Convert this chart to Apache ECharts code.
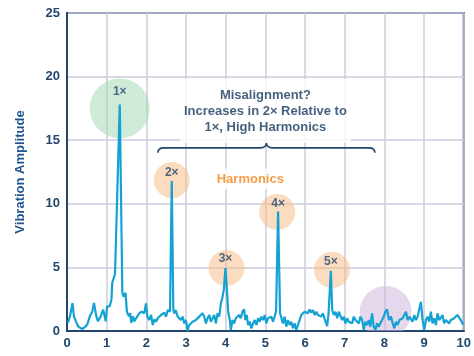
<!DOCTYPE html>
<html><head><meta charset="utf-8">
<script src="https://cdn.jsdelivr.net/npm/echarts@6/dist/echarts.min.js"></script>
<style>html,body{margin:0;padding:0;background:#fff}#c{width:474px;height:356px}</style>
</head><body><div id="c"></div>
<script>
// Spectrum (frequency order, amplitude)
const freq = [0.02,0.075,0.12,0.14,0.175,0.225,0.28,0.37,0.425,0.51,0.575,0.64,0.68,0.74,0.78,0.85,0.91,0.95,0.975,1.01,1.075,1.12,1.14,1.18,1.21,1.33,1.395,1.425,1.475,1.51,1.56,1.59,1.62,1.66,1.70,1.74,1.78,1.825,1.88,1.95,1.99,2.027,2.069,2.119,2.161,2.203,2.244,2.286,2.32,2.37,2.412,2.454,2.496,2.538,2.596,2.64,2.68,2.705,2.739,2.789,2.831,2.873,2.915,2.956,2.998,3.04,3.082,3.124,3.166,3.208,3.249,3.291,3.333,3.375,3.417,3.459,3.501,3.543,3.585,3.627,3.668,3.71,3.752,3.794,3.836,3.878,3.92,3.95,3.995,4.035,4.062,4.104,4.129,4.171,4.212,4.254,4.296,4.338,4.38,4.422,4.464,4.497,4.531,4.564,4.606,4.648,4.69,4.732,4.774,4.815,4.857,4.899,4.941,4.983,5.025,5.066,5.108,5.15,5.192,5.234,5.27,5.32,5.37,5.401,5.443,5.485,5.527,5.569,5.611,5.653,5.695,5.736,5.778,5.82,5.862,5.904,5.946,5.988,6.03,6.07,6.114,6.156,6.198,6.24,6.282,6.324,6.366,6.407,6.449,6.491,6.533,6.558,6.592,6.65,6.684,6.726,6.768,6.81,6.851,6.893,6.935,6.977,7.019,7.061,7.103,7.145,7.186,7.228,7.27,7.312,7.354,7.396,7.438,7.48,7.521,7.563,7.605,7.647,7.689,7.731,7.773,7.815,7.856,7.898,7.94,7.982,8.024,8.066,8.116,8.166,8.208,8.25,8.292,8.334,8.376,8.417,8.459,8.501,8.543,8.585,8.627,8.669,8.71,8.752,8.794,8.836,8.878,8.92,8.962,9.004,9.046,9.088,9.129,9.171,9.213,9.255,9.297,9.339,9.381,9.422,9.464,9.506,9.548,9.59,9.632,9.674,9.715,9.757,9.799,9.841,9.883,9.925,9.967,9.99];
const amp = [0.63,1.15,1.15,2.2,1.15,0.76,0.37,0.16,0.24,0.5,1.15,1.54,2.2,1.15,0.76,1.15,1.68,1.15,0.76,1.94,1.94,2.46,3.77,3.77,4.5,17.8,3.0,2.7,3.0,1.5,1.15,1.4,0.63,1.15,0.76,1.0,0.9,1.4,1.52,1.4,2.17,1.13,0.86,1.26,0.47,0.92,0.73,1.0,0.86,1.26,1.13,1.44,1.13,1.65,1.52,11.8,1.65,1.39,1.65,1.13,1.26,0.86,1.13,0.6,0.86,0.03,0.47,0.6,0.73,0.6,0.86,0.73,1.13,1.0,1.39,1.13,0.6,1.0,1.26,0.73,1.0,1.26,0.6,1.39,1.13,2.17,2.7,3.2,4.95,3.0,1.52,0.86,0.08,0.86,0.6,1.0,0.86,1.26,1.0,1.52,1.7,0.86,1.26,0.47,0.73,0.2,0.6,0.86,0.47,1.0,0.73,1.13,0.86,1.26,0.6,1.0,0.86,1.13,0.73,1.13,1.6,9.4,1.39,1.52,0.6,1.13,0.34,0.86,0.47,0.73,0.21,0.6,0.08,0.47,0.86,1.26,1.13,1.52,1.52,1.39,1.7,1.44,1.65,1.26,1.52,1.26,1.39,1.13,1.39,1.0,1.13,0.39,1.39,4.74,1.65,1.26,1.52,1.0,1.52,1.65,0.86,1.13,0.6,1.0,0.73,0.86,0.6,1.13,0.86,1.0,0.6,1.13,0.86,0.08,0.73,0.47,0.86,0.34,1.39,0.34,0.08,0.6,0.34,0.6,0.86,1.13,1.52,1.7,0.86,1.13,0.6,0.21,0.73,0.47,0.86,0.73,1.0,0.86,1.52,0.86,1.13,1.0,0.73,1.26,0.86,1.13,1.26,2.3,0.86,0.08,0.86,1.13,0.73,1.52,0.6,1.0,0.47,1.39,0.86,0.73,1.26,0.6,0.86,1.0,0.6,0.86,0.73,1.0,0.86,1.26,1.13,0.86,0.6,0.5];

// Harmonic peaks
const orderLabels = ['1×','2×','3×','4×','5×'];
const orderFreq = [1.33, 2.64, 3.995, 5.32, 6.65];
const orderAmp = [17.8, 11.8, 4.95, 9.4, 4.74];

// Highlight circles (centres in data units)
const circleX = [1.33, 2.64, 4.02, 5.30, 6.68, 8.03];
const circleY = [17.5, 11.87, 4.95, 9.36, 4.8, 1.5];

const xTicks = [0,1,2,3,4,5,6,7,8,9,10];
const yTicks = [0,5,10,15,20,25];

const noteText = 'Misalignment?\nIncreases in 2× Relative to\n1×, High Harmonics';
const notePos = [5.0, 17.3];
const harmText = 'Harmonics';
const harmPos = [4.62, 11.95];
const braceFrom = 2.29, braceTo = 7.76, braceY = 14.4;

// styling
const NAVY = '#22466c';
const circleFill = ['rgba(160,216,176,0.5)','rgba(247,185,130,0.5)','rgba(247,185,130,0.5)','rgba(247,185,130,0.5)','rgba(247,185,130,0.5)','rgba(203,178,220,0.5)'];
const circleR = [30, 18, 18, 18, 18, 26];
const labelOffsets = [[0,-13],[0,-8],[0,-9],[0,-8],[0,-9]];

const chart = echarts.init(document.getElementById('c'), null, {renderer:'canvas'});
const lineData = freq.map((f,i)=>[f, amp[i]]);
const FONT = '"Liberation Sans", Arial, sans-serif';

chart.setOption({
  animation:false,
  backgroundColor:'#fff',
  grid:{left:67,right:9,top:13,bottom:25,show:true,borderColor:NAVY,borderWidth:2,backgroundColor:'transparent'},
  xAxis:{type:'value',min:xTicks[0],max:xTicks[xTicks.length-1],interval:1,
    axisLine:{show:true,lineStyle:{color:NAVY,width:2}},axisTick:{show:false},
    axisLabel:{color:NAVY,fontFamily:FONT,fontWeight:'bold',fontSize:13,margin:6},
    splitLine:{show:true,lineStyle:{color:'#cdcddc',width:1.5}}},
  yAxis:{type:'value',min:yTicks[0],max:yTicks[yTicks.length-1],interval:5,
    name:'Vibration Amplitude',nameLocation:'middle',nameGap:40,nameRotate:90,
    nameTextStyle:{color:'#1f5690',fontFamily:FONT,fontWeight:'bold',fontSize:13},
    axisLine:{show:true,lineStyle:{color:NAVY,width:2}},axisTick:{show:false},
    axisLabel:{color:NAVY,fontFamily:FONT,fontWeight:'bold',fontSize:13,margin:7},
    splitLine:{show:true,lineStyle:{color:'#cdcddc',width:1.5}}},
  series:[
    {type:'custom',z:1,clip:true,silent:true,
     data:circleX.map((x,i)=>[x,circleY[i]]),
     renderItem:function(params,api){
       const p = api.coord([api.value(0),api.value(1)]);
       const i = params.dataIndex;
       return {type:'circle',shape:{cx:p[0],cy:p[1],r:circleR[i]},style:{fill:circleFill[i]}};
     }},
    {type:'custom',z:4,silent:true,data:[[braceFrom,braceY,braceTo]],
     renderItem:function(params,api){
       const a = api.coord([api.value(0),api.value(1)]);
       const b = api.coord([api.value(2),api.value(1)]);
       const y = a[1], mx=(a[0]+b[0])/2, h=5, w=6;
       const d = `M${a[0]} ${y+h} Q${a[0]} ${y} ${a[0]+w} ${y} L${mx-w} ${y} Q${mx} ${y} ${mx} ${y-h} Q${mx} ${y} ${mx+w} ${y} L${b[0]-w} ${y} Q${b[0]} ${y} ${b[0]} ${y+h}`;
       return {type:'path',shape:{pathData:d},style:{stroke:NAVY,lineWidth:1.6,fill:null}};
     }},
    {type:'line',z:3,data:lineData,showSymbol:false,symbol:'none',
     lineStyle:{color:'#13a2d2',width:2.2},itemStyle:{color:'#13a2d2'}},
    {type:'scatter',z:5,symbolSize:0,silent:true,
     data:orderFreq.map((f,i)=>({value:[f,orderAmp[i]],label:{offset:labelOffsets[i]}})),
     label:{show:true,position:'inside',formatter:p=>orderLabels[p.dataIndex],
       color:NAVY,fontFamily:FONT,fontWeight:'bold',fontSize:12}},
    {type:'scatter',z:5,symbolSize:0,silent:true,data:[notePos],
     label:{show:true,position:'inside',formatter:noteText,color:'#163a60',fontFamily:FONT,fontWeight:'bold',
       fontSize:13,lineHeight:16,align:'center',backgroundColor:'#fff',padding:[8,4]}},
    {type:'scatter',z:5,symbolSize:0,silent:true,data:[harmPos],
     label:{show:true,position:'inside',formatter:harmText,color:'#f28419',fontFamily:FONT,fontWeight:'bold',
       fontSize:13,backgroundColor:'#fff',padding:[4,4]}}
  ]
});
</script></body></html>
